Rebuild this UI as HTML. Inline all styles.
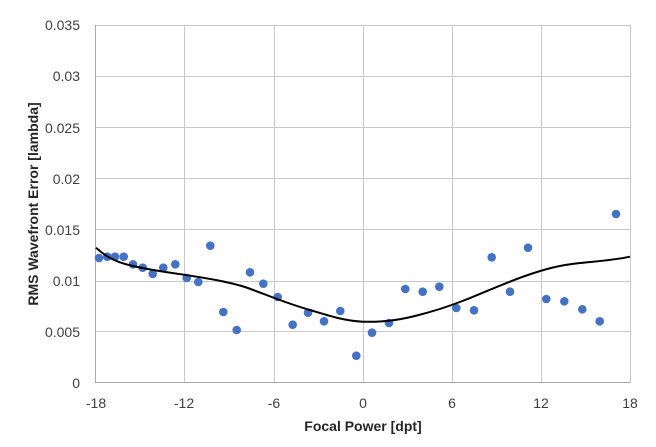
<!DOCTYPE html>
<html><head><style>body{margin:0;background:#fff}svg{display:block}</style></head><body>
<svg width="656" height="447" xmlns="http://www.w3.org/2000/svg" font-family="Liberation Sans, sans-serif">
<rect width="656" height="447" fill="#fff"/>
<g stroke="#c8c8c8" stroke-width="1">
<line x1="96" y1="25.5" x2="630" y2="25.5"/><line x1="96" y1="76.5" x2="630" y2="76.5"/><line x1="96" y1="127.5" x2="630" y2="127.5"/><line x1="96" y1="178.5" x2="630" y2="178.5"/><line x1="96" y1="229.5" x2="630" y2="229.5"/><line x1="96" y1="281.5" x2="630" y2="281.5"/><line x1="96" y1="331.5" x2="630" y2="331.5"/>
<line x1="184.5" y1="25" x2="184.5" y2="383"/><line x1="274.5" y1="25" x2="274.5" y2="383"/><line x1="363.5" y1="25" x2="363.5" y2="383"/><line x1="452.5" y1="25" x2="452.5" y2="383"/><line x1="541.5" y1="25" x2="541.5" y2="383"/><line x1="630.5" y1="25" x2="630.5" y2="383"/>
</g>
<g stroke="#a6a6a6"><line x1="95.5" y1="25" x2="95.5" y2="383"/><line x1="96" y1="382.5" x2="630" y2="382.5"/></g>
<g fill="#404040" font-size="14" text-anchor="end">
<text x="80" y="30">0.035</text><text x="80" y="81">0.03</text><text x="80" y="133">0.025</text><text x="80" y="184">0.02</text><text x="80" y="235">0.015</text><text x="80" y="286">0.01</text><text x="80" y="337">0.005</text><text x="80" y="388">0</text>
</g>
<g fill="#404040" font-size="14" text-anchor="middle">
<text x="96" y="408">-18</text><text x="184" y="408">-12</text><text x="274" y="408">-6</text><text x="363" y="408">0</text><text x="452" y="408">6</text><text x="541" y="408">12</text><text x="630" y="408">18</text>
</g>
<text x="363" y="431" font-size="14" font-weight="bold" fill="#262626" text-anchor="middle">Focal Power [dpt]</text>
<text transform="translate(38,204) rotate(-90)" font-size="14" font-weight="bold" fill="#262626" text-anchor="middle">RMS Wavefront Error [lambda]</text>
<g fill="#4472c4">
<circle cx="99" cy="258" r="4.3"/><circle cx="107.3" cy="256.7" r="4.3"/><circle cx="115" cy="256.7" r="4.3"/><circle cx="123.7" cy="256.7" r="4.3"/><circle cx="133" cy="264.3" r="4.3"/><circle cx="142.7" cy="267.7" r="4.3"/><circle cx="152.7" cy="274" r="4.3"/><circle cx="163.3" cy="267.7" r="4.3"/><circle cx="175.3" cy="264.3" r="4.3"/><circle cx="186.7" cy="278" r="4.3"/><circle cx="198.3" cy="282" r="4.3"/><circle cx="210.3" cy="245.7" r="4.3"/><circle cx="223.3" cy="312" r="4.3"/><circle cx="236.7" cy="330" r="4.3"/><circle cx="250" cy="272.3" r="4.3"/><circle cx="263.3" cy="283.7" r="4.3"/><circle cx="277.7" cy="297" r="4.3"/><circle cx="292.7" cy="324.7" r="4.3"/><circle cx="308" cy="312.7" r="4.3"/><circle cx="324" cy="321.3" r="4.3"/>
<circle cx="340.3" cy="311" r="4.3"/><circle cx="356.3" cy="355.7" r="4.3"/><circle cx="372" cy="332.7" r="4.3"/><circle cx="389" cy="323" r="4.3"/><circle cx="405.3" cy="289" r="4.3"/><circle cx="422.7" cy="291.7" r="4.3"/><circle cx="439.3" cy="286.7" r="4.3"/><circle cx="456.3" cy="308" r="4.3"/><circle cx="474" cy="310.3" r="4.3"/><circle cx="491.7" cy="257.3" r="4.3"/><circle cx="510" cy="291.7" r="4.3"/><circle cx="528" cy="247.7" r="4.3"/><circle cx="546.3" cy="299" r="4.3"/><circle cx="564.3" cy="301.3" r="4.3"/><circle cx="582.3" cy="309.3" r="4.3"/><circle cx="599.7" cy="321.3" r="4.3"/><circle cx="616" cy="214" r="4.3"/>
</g>
<path d="M96,247.7 C105,256 115,262 133,266 C150,270 165,272 186,275 C205,278 225,281 245,287 C265,294 285,303 310,310 C330,316 345,321 363,321.7 C380,322 395,321 415,316 C435,311 450,306 465,300 C485,292 505,283 525,276 C545,269 560,265 580,263 C600,261 615,260 630,256.7" fill="none" stroke="#000" stroke-width="2"/>
</svg>
</body></html>
